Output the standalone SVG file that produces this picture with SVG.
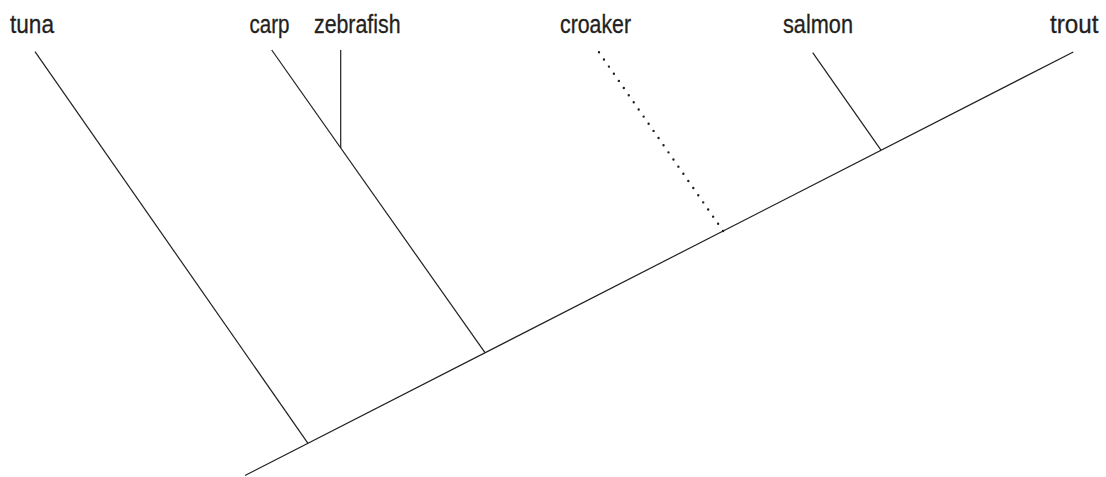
<svg xmlns="http://www.w3.org/2000/svg" width="1106" height="477" viewBox="0 0 1106 477">
<style>
  .lbl { font-family: "Liberation Sans", Arial, sans-serif; font-size: 25px; fill: #231f20; stroke: #231f20; stroke-width: 0.3; }
  .br { stroke: #231f20; stroke-width: 1.2; fill: none; }
  .dot { stroke: #231f20; stroke-width: 2.4; fill: none; stroke-linecap: round; stroke-dasharray: 0 8.7; }
</style>
<rect width="1106" height="477" fill="#ffffff"/>
<g id="nodes">
  <g id="tuna"><text class="lbl" x="10" y="33" textLength="44" lengthAdjust="spacingAndGlyphs">tuna</text></g>
  <g id="carp"><text class="lbl" x="249.5" y="33" textLength="40" lengthAdjust="spacingAndGlyphs">carp</text></g>
  <g id="zebrafish"><text class="lbl" x="314" y="33" textLength="86.5" lengthAdjust="spacingAndGlyphs">zebrafish</text></g>
  <g id="croaker"><text class="lbl" x="560" y="33" textLength="71" lengthAdjust="spacingAndGlyphs">croaker</text></g>
  <g id="salmon"><text class="lbl" x="783" y="33" textLength="70" lengthAdjust="spacingAndGlyphs">salmon</text></g>
  <g id="trout"><text class="lbl" x="1050" y="33" textLength="48.5" lengthAdjust="spacingAndGlyphs">trout</text></g>
</g>
<g id="connectors">
  <line class="br" x1="245" y1="475.5" x2="1073.3" y2="52"/>
  <line class="br" x1="35" y1="51.7" x2="308" y2="443.3"/>
  <line class="br" x1="271.7" y1="50" x2="485" y2="352.7"/>
  <line class="br" x1="340.7" y1="50" x2="340.7" y2="148"/>
  <line class="dot" x1="599" y1="52.3" x2="724" y2="232.3"/>
  <line class="br" x1="812.7" y1="52.7" x2="881" y2="150.2"/>
</g>
</svg>
